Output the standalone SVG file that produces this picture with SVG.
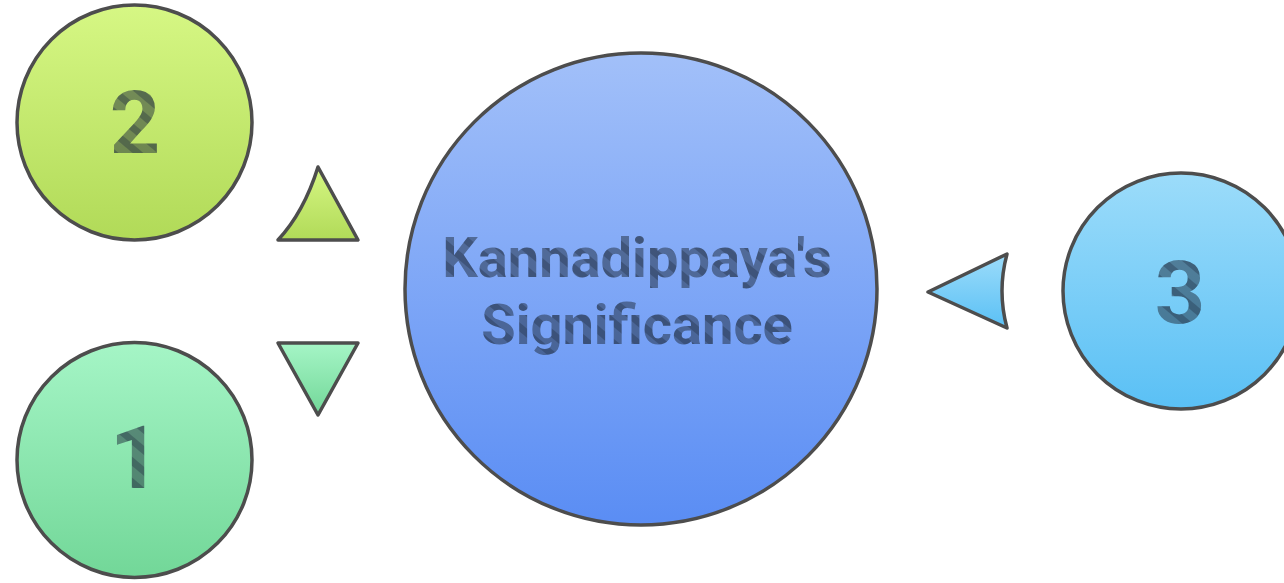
<svg xmlns="http://www.w3.org/2000/svg" width="1284" height="583" viewBox="0 0 1284 583">
<defs>
<linearGradient id="gGreen" x1="0" y1="0" x2="0" y2="1"><stop offset="0" stop-color="#d6f784"/><stop offset="1" stop-color="#b1da58"/></linearGradient>
<linearGradient id="gMint" x1="0" y1="0" x2="0" y2="1"><stop offset="0" stop-color="#a5f5c6"/><stop offset="1" stop-color="#72d798"/></linearGradient>
<linearGradient id="gBlue" x1="0" y1="0" x2="0" y2="1"><stop offset="0" stop-color="#a2c0f9"/><stop offset="1" stop-color="#5a8df4"/></linearGradient>
<linearGradient id="gSky" x1="0" y1="0" x2="0" y2="1"><stop offset="0" stop-color="#9cdcfa"/><stop offset="1" stop-color="#5ac0f5"/></linearGradient>
<pattern id="hatch" patternUnits="userSpaceOnUse" width="16" height="16" patternTransform="rotate(-50)">
<rect width="16" height="16" fill="#1d2a3a" fill-opacity="0.5"/>
<rect width="7" height="16" fill="#1d2a3a" fill-opacity="0.32"/>
</pattern>
</defs>
<style>
.node{stroke:#4d4d4d;stroke-width:3.5;stroke-linejoin:round}
.lbl{font-family:Roboto,"Liberation Sans",sans-serif;font-weight:bold;fill:url(#hatch);text-anchor:middle}
.num{font-size:88px}
.title{font-size:56px}
</style>
<g id="connectors">
<path class="node" fill="url(#gGreen)" d="M278,240 Q304,212 318,167 L358,240 Z"/>
<path class="node" fill="url(#gMint)" d="M278,343 L358,343 L318,415 Z"/>
<path class="node" fill="url(#gSky)" d="M928,292 L1007,254 Q997,291 1007,328 Z"/>
</g>
<g id="node-2">
<circle class="node" cx="134.5" cy="122.5" r="117.5" fill="url(#gGreen)"/>
<text class="lbl num" x="135" y="153">2</text>
</g>
<g id="node-1">
<circle class="node" cx="134.5" cy="460" r="117.5" fill="url(#gMint)"/>
<text class="lbl num" x="135" y="488">1</text>
</g>
<g id="node-center">
<circle class="node" cx="641" cy="289" r="236" fill="url(#gBlue)"/>
<text class="lbl title" x="637" y="277">Kannadippaya's</text>
<text class="lbl title" x="637" y="344">Significance</text>
</g>
<g id="node-3">
<circle class="node" cx="1181" cy="291" r="118" fill="url(#gSky)"/>
<text class="lbl num" x="1180" y="323">3</text>
</g>
</svg>
